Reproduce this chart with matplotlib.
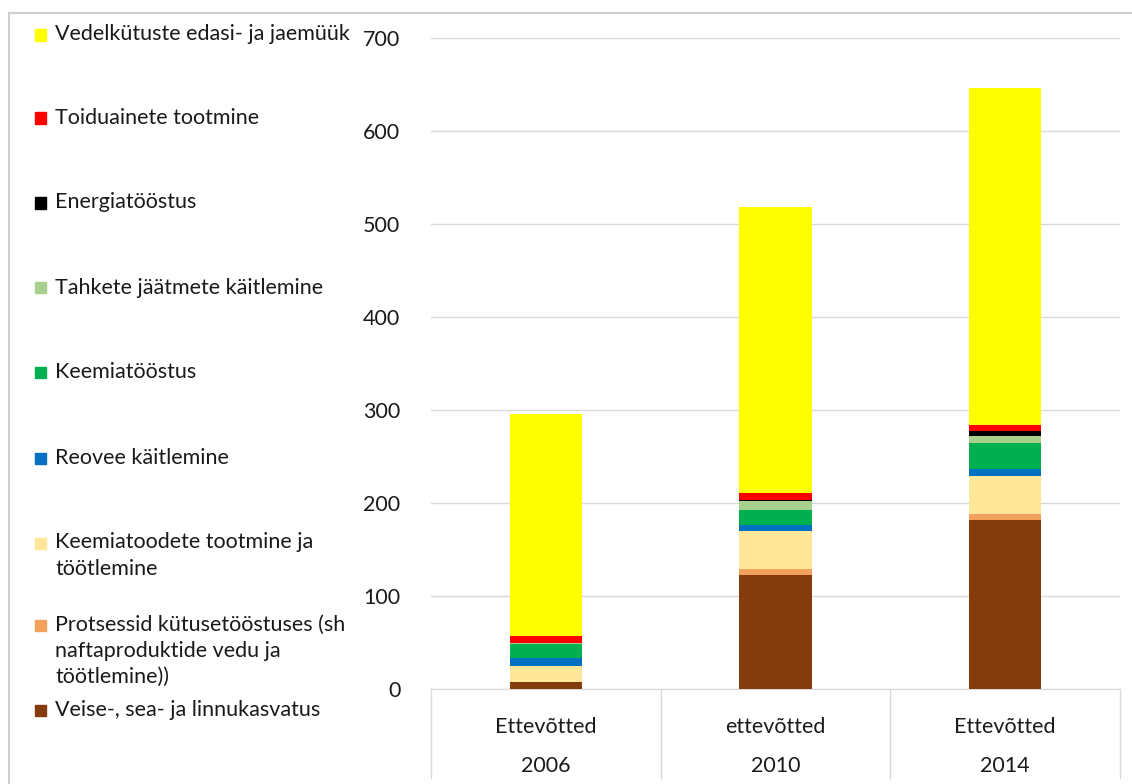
import matplotlib
matplotlib.use("Agg")
import matplotlib.pyplot as plt
from matplotlib.patches import Rectangle
from matplotlib.lines import Line2D
from matplotlib.transforms import blended_transform_factory
import numpy as np

plt.rcParams['font.family'] = ['Lato', 'DejaVu Sans']

years = ["2006", "2010", "2014"]
cat_labels = ["Ettevõtted", "ettevõtted", "Ettevõtted"]

# series, bottom to top
series_names = [
    "Veise-, sea- ja linnukasvatus",
    "Protsessid kütusetööstuses (sh\nnaftaproduktide vedu ja\ntöötlemine))",
    "Keemiatoodete tootmine ja\ntöötlemine",
    "Reovee käitlemine",
    "Keemiatööstus",
    "Tahkete jäätmete käitlemine",
    "Energiatööstus",
    "Toiduainete tootmine",
    "Vedelkütuste edasi- ja jaemüük",
]
veise = [7, 123, 182]
protsessid = [1, 6, 6.5]
keemiatooted = [17, 41, 41]
reovee = [8, 6, 7]
keemia = [15, 17, 28.5]
tahked = [1, 9, 7]
energia = [1, 1.5, 5]
toidu = [7, 7, 7]
vedel = [239, 308, 362]
series_values = [veise, protsessid, keemiatooted, reovee, keemia, tahked, energia, toidu, vedel]
colors = ["#843C0C", "#F4A15D", "#FFE699", "#0070C0", "#00B050",
          "#A9D18E", "#000000", "#FF0000", "#FFFF00"]

W, H = 1132, 784
fig = plt.figure(figsize=(W / 100, H / 100), dpi=100)
ax = fig.add_axes([431 / W, (H - 689) / H, (1120 - 431) / W, (689 - 38) / H])

x = np.arange(len(years))
bottom = np.zeros(len(years))
for vals, col in zip(series_values, colors):
    ax.bar(x, vals, 0.314, bottom=bottom, color=col, zorder=3)
    bottom += np.array(vals)

ax.set_xlim(-0.5, 2.5)
ax.set_ylim(0, 700)
ax.set_yticks(range(0, 701, 100))
ax.grid(axis='y', color='#d9d9d9', lw=1, zorder=0)
for s in ['top', 'right', 'left']:
    ax.spines[s].set_visible(False)
ax.spines['bottom'].set_color('#d9d9d9')
ax.tick_params(axis='y', length=0, labelsize=15.5, pad=22, labelcolor='#1a1a1a')
ax.tick_params(axis='x', length=0, labelbottom=False)

ah = 689 - 38
tr = blended_transform_factory(ax.transData, ax.transAxes)
for i in range(len(years)):
    ax.text(i, -(727 - 689) / ah, cat_labels[i], transform=tr, ha='center', va='center',
            fontsize=15.5, color='#1a1a1a')
    ax.text(i, -(766 - 689) / ah, years[i], transform=tr, ha='center', va='center',
            fontsize=15.5, color='#1a1a1a')
for b in [-0.5, 0.5, 1.5, 2.5]:
    ax.add_line(Line2D([b, b], [0, -(778 - 689) / ah], transform=tr, color='#d9d9d9',
                       lw=1, clip_on=False))

# chart border
fig.add_artist(Line2D([9 / W, 9 / W], [0, 1 - 13 / H], transform=fig.transFigure,
                      color='#d0d0d0', lw=1.5))
fig.add_artist(Line2D([9 / W, 1], [1 - 13 / H, 1 - 13 / H], transform=fig.transFigure,
                      color='#d0d0d0', lw=1.5))

# legend (top to bottom)
leg_y = [35, 118, 203, 288, 373, 458, 543, 625, 710]
leg_order = list(range(len(series_names)))[::-1]
for yy, idx in zip(leg_y, leg_order):
    fig.add_artist(Rectangle((35 / W, 1 - (yy + 5.5) / H), 11 / W, 11 / H,
                             transform=fig.transFigure, color=colors[idx]))
    fig.text(55 / W, 1 - (yy - 10.5) / H, series_names[idx], ha='left', va='top',
             fontsize=15.5, color='#1a1a1a', linespacing=1.4)

fig.savefig("out.png", dpi=100)
